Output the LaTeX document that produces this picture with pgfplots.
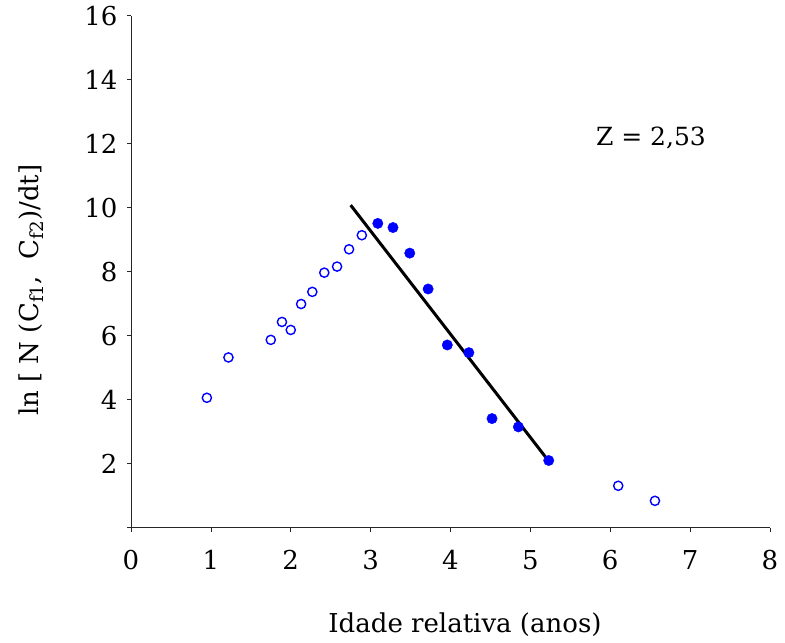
\documentclass[border=0pt]{standalone}
\usepackage{fontspec}
\setmainfont{DejaVu Serif}
\usepackage{pgfplots}
\pgfplotsset{compat=1.18}
\definecolor{ptblue}{RGB}{0,0,255}

\begin{document}
\begin{tikzpicture}
\begin{axis}[
  scale only axis, width=639pt, height=512pt,
  xmin=0, xmax=8, ymin=0, ymax=16,
  axis lines=left,
  axis line style={-, black!85, line width=0.8pt},
  xtick={0,1,...,8},
  ytick={0,2,...,16},
  yticklabels={,2,4,6,8,10,12,14,16},
  tick align=outside,
  major tick length=4pt,
  tick style={black!85, line width=0.7pt},
  /pgf/number format/assume math mode=true,
  ticklabel style={font=\fontsize{26}{30}\selectfont},
  xticklabel style={yshift=-15pt},
  yticklabel style={xshift=-6pt},
  label style={font=\fontsize{26}{30}\selectfont},
  xlabel={Idade relativa (anos)},
  xlabel style={at={(axis description cs:0.5227,-0.190)}, anchor=center},
  ylabel={ln [ N (C\textsubscript{f1},\ \ C\textsubscript{f2})/dt]},
  ylabel style={at={(axis description cs:-0.1565,0.464)}, anchor=center, rotate=0},
  clip=false,
]
% points outside the fitted interval
\addplot[only marks, mark=o, mark size=4.6pt, ptblue, line width=1.4pt]
  coordinates {
  (0.95,4.06) (1.22,5.32) (1.75,5.87) (1.89,6.43) (2.00,6.18)
  (2.13,6.99) (2.27,7.37) (2.42,7.97) (2.58,8.16) (2.73,8.70)
  (2.89,9.14) (6.10,1.31) (6.56,0.84)
  };
% points used in the regression
\addplot[only marks, mark=*, mark size=5.2pt, ptblue, mark options={draw=ptblue, fill=ptblue}]
  coordinates {
  (3.09,9.51) (3.28,9.38) (3.49,8.58) (3.72,7.46) (3.96,5.71)
  (4.23,5.47) (4.52,3.41) (4.85,3.15) (5.23,2.10)
  };
% fitted line
\addplot[black, line width=3pt, no marks] coordinates {(2.75,10.08) (5.23,2.08)};
\node[font=\fontsize{25}{30}\selectfont] at (axis cs:6.51,12.17) {Z = 2,53};
\end{axis}
\path (current axis.south west) ++(-131pt,-115.3pt) rectangle ++(785pt,643pt);
\end{tikzpicture}
\end{document}
